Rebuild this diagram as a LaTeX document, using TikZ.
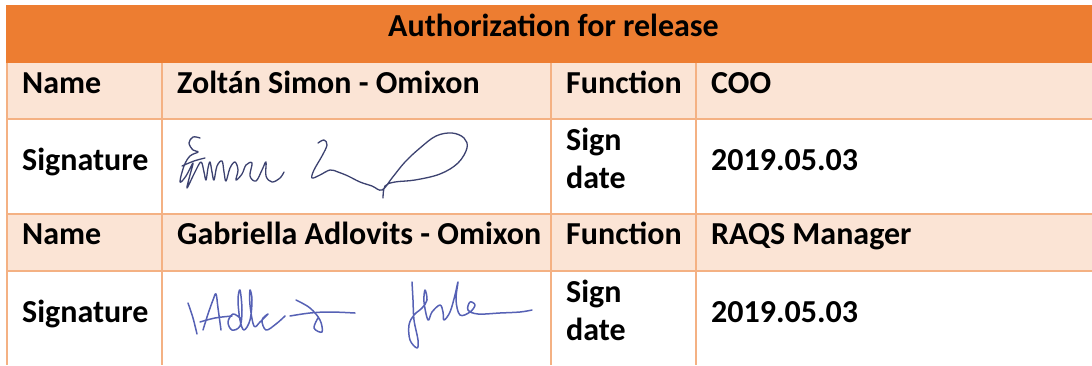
\documentclass[tikz,border=0pt]{standalone}
\usepackage{fontspec}
\setmainfont{Carlito}
\definecolor{hdr}{HTML}{ED7D31}
\definecolor{lite}{HTML}{FBE4D5}
\definecolor{gridc}{HTML}{F4B183}
\definecolor{inkA}{HTML}{3C4270}
\definecolor{inkB}{HTML}{5661B5}
\begin{document}
\begin{tikzpicture}[x=1pt,y=-1pt,
  txt/.style={anchor=base west, inner sep=0pt, font=\fontsize{32}{38}\selectfont\bfseries},
  gline/.style={draw=gridc, line width=2pt},
  sigA/.style={draw=inkA, line width=1.3pt, line cap=round, line join=round},
  sigB/.style={draw=inkB, line width=1.5pt, line cap=round, line join=round}]
\useasboundingbox (0,0) rectangle (1092,365);
\fill[white] (0,0) rectangle (1092,365);
% fills
\fill[hdr] (6,5) rectangle (1092,62.5);
\fill[lite] (6,62.5) rectangle (1092,118.5);
\fill[lite] (6,213.5) rectangle (1092,270.5);
% grid
\foreach \yy in {118.5,213.5,270.5} \draw[gline] (6,\yy) -- (1092,\yy);
\foreach \xx in {7,162,551,696} \draw[gline] (\xx,62.5) -- (\xx,365);
% header
\node[txt, anchor=base] (title) at (553.5,36) {Authorization for release};
% row 1
\node[txt] (n1) at (22,93.3) {Name};
\node[txt] (v1) at (177,93.3) {Zoltán Simon - Omixon};
\node[txt] (f1) at (566,93.3) {Function};
\node[txt] (c1) at (711,93.3) {COO};
% row 2
\node[txt] (s1) at (22,170) {Signature};
\node[txt] (sd1a) at (566,150) {Sign};
\node[txt] (sd1b) at (566,188) {date};
\node[txt] (d1) at (711,170) {2019.05.03};
% row 3
\node[txt] (n2) at (22,244.5) {Name};
\node[txt] (v2) at (177,244.5) {Gabriella Adlovits - Omixon};
\node[txt] (f2) at (566,244.5) {Function};
\node[txt] (c2) at (711,244.5) {RAQS Manager};
% row 4
\node[txt] (s2) at (22,322) {Signature};
\node[txt] (sd2a) at (566,302) {Sign};
\node[txt] (sd2b) at (566,340) {date};
\node[txt] (d2) at (711,322) {2019.05.03};
% signature 1
\draw[sigA] plot[smooth, tension=0.6] coordinates {(200,138) (193,137) (189,143) (193,150) (198,152) (190,156) (184,166) (180,182) (186,176) (193,163) (190,175) (187,188) (195,172) (201,162) (204,172) (206,180) (208,168) (210,162) (212,172) (214,180) (217,166) (222,161) (224,172) (226,181) (230,168) (235,162) (238,170) (236,180) (242,174) (246,165) (252,163) (250,176) (256,181) (262,170) (266,162) (266,176) (272,182) (280,178) (284,172)};
\draw[sigA] plot[smooth, tension=0.6] coordinates {(182,166) (194,161) (205,158)};
\draw[sigA] plot[smooth, tension=0.6] coordinates {(318,143) (324,140) (327,145) (322,156) (314,170) (312,178) (320,175) (330,170) (338,172) (348,176) (360,182) (372,186) (382,190) (392,178) (405,162) (420,148) (436,136) (452,133) (464,138) (467,148) (458,163) (440,174) (415,180) (395,182) (385,186) (383,198)};
% signature 2
\draw[sigB] plot[smooth, tension=0.6] coordinates {(188,303) (193,318) (197,334)};
\draw[sigB] plot[smooth, tension=0.6] coordinates {(203,330) (208,314) (213,300) (216,294) (218,308) (221,330)};
\draw[sigB] plot[smooth, tension=0.6] coordinates {(200,322) (215,318) (232,316)};
\draw[sigB] plot[smooth, tension=0.6] coordinates {(240,318) (233,314) (228,322) (232,330) (240,326) (242,310) (240,290) (238,300) (240,320) (244,330) (250,320) (252,300) (250,290) (250,305) (254,326) (260,322) (268,314) (262,320) (266,330) (276,324) (285,316)};
\draw[sigB] plot[smooth, tension=0.6] coordinates {(296,300) (310,308) (320,320) (322,332) (314,328) (318,318)};
\draw[sigB] plot[smooth, tension=0.6] coordinates {(290,316) (310,313) (330,312) (355,313)};
\draw[sigB] plot[smooth, tension=0.6] coordinates {(412,282) (413,300) (414,320) (418,340) (417,348) (410,340) (409,325) (414,315) (422,308) (427,300) (425,290) (424,302) (428,320) (432,312) (440,305) (443,312) (444,320) (450,312) (455,295) (458,282) (456,300) (460,315) (470,312) (475,305) (470,302) (468,310) (478,314) (500,313) (520,312) (532,310)};
\end{tikzpicture}
\end{document}
